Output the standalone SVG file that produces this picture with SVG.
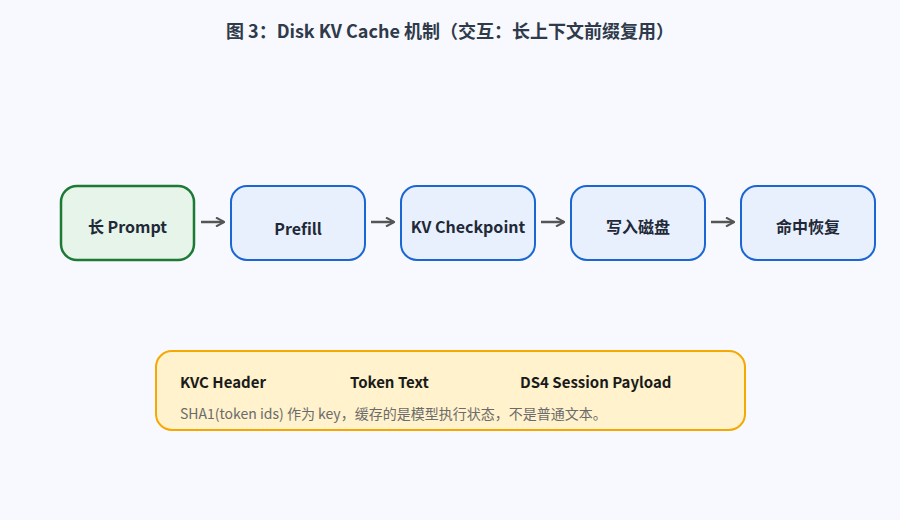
<svg xmlns="http://www.w3.org/2000/svg" width="900" height="520" viewBox="0 0 900 520">
<defs>
<marker id="ah" viewBox="0 0 10 10" refX="9" refY="5" markerWidth="10" markerHeight="10" markerUnits="userSpaceOnUse" orient="auto"><path d="M1,0.5 L9.5,5 L1,9.5" fill="none" stroke="#555" stroke-width="2"/></marker>
</defs>
<style>
text{font-family:"Noto Sans CJK SC","Noto Sans",sans-serif;}
.t{font-size:16px;font-weight:bold;fill:#1f2937;text-anchor:middle}
.n{fill:#e8f0fe;stroke:#1a66d2;stroke-width:2}
.c{stroke:#555;stroke-width:2.5;fill:none;marker-end:url(#ah)}
.h{font-size:15px;font-weight:bold;fill:#1a1a1a}
</style>
<rect width="900" height="520" fill="#f8f9fe"/>
<text x="450" y="38" text-anchor="middle" style="font-size:18px;font-weight:bold;fill:#2f3a4a">图 3：Disk KV Cache 机制（交互：长上下文前缀复用）</text>
<g id="connectors">
<line class="c" x1="201" y1="222" x2="224" y2="222"/>
<line class="c" x1="371" y1="222" x2="394" y2="222"/>
<line class="c" x1="541" y1="222" x2="564" y2="222"/>
<line class="c" x1="711" y1="222" x2="734" y2="222"/>
</g>
<g id="n1"><rect x="61" y="186" width="133" height="74" rx="16" fill="#e6f4e9" stroke="#1d7a35" stroke-width="2.5"/><text class="t" x="127.5" y="233">长 Prompt</text></g>
<g id="n2"><rect class="n" x="231" y="186" width="134" height="74" rx="16"/><text class="t" x="298" y="235">Prefill</text></g>
<g id="n3"><rect class="n" x="401" y="186" width="134" height="74" rx="16"/><text class="t" x="468" y="233">KV Checkpoint</text></g>
<g id="n4"><rect class="n" x="571" y="186" width="134" height="74" rx="16"/><text class="t" x="638" y="233">写入磁盘</text></g>
<g id="n5"><rect class="n" x="741" y="186" width="134" height="74" rx="16"/><text class="t" x="808" y="233">命中恢复</text></g>
<g id="note">
<rect x="156" y="351" width="589" height="79" rx="16" fill="#fff2cc" stroke="#f5a800" stroke-width="2"/>
<text class="h" x="180" y="388">KVC Header</text>
<text class="h" x="350" y="388">Token Text</text>
<text class="h" x="520" y="388">DS4 Session Payload</text>
<text x="180" y="419" style="font-size:14px;fill:#6b6b6b">SHA1(token ids) 作为 key，缓存的是模型执行状态，不是普通文本。</text>
</g>
</svg>
